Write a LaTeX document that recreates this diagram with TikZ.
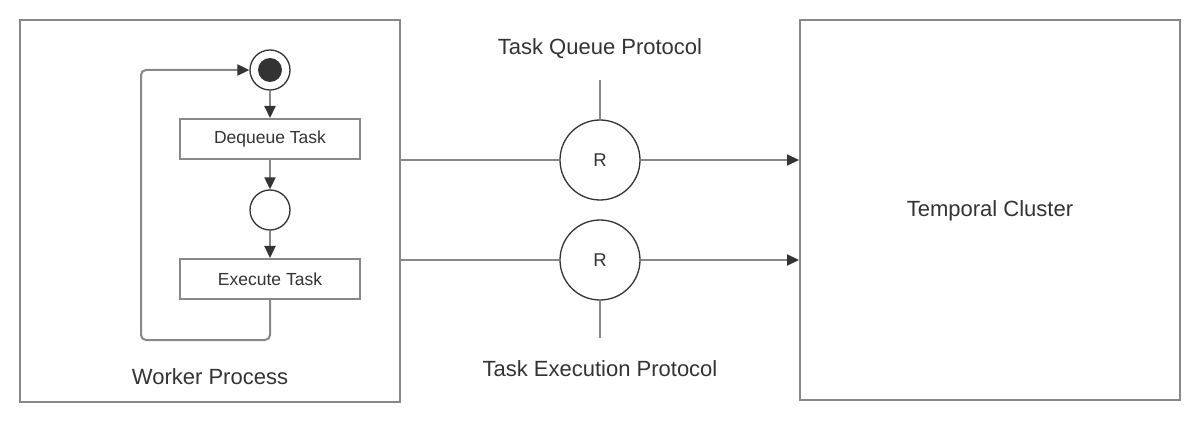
\documentclass[tikz,border=0pt]{standalone}
\usepackage{fontspec}
\setmainfont{Liberation Sans}
\usetikzlibrary{arrows.meta,positioning}

\definecolor{linegray}{HTML}{888888}
\definecolor{inkdark}{HTML}{333333}

\begin{document}
\begin{tikzpicture}[x=1pt, y=-1pt,
    frame/.style={draw=linegray, line width=2pt, minimum width=380pt, minimum height=380pt},
    taskbox/.style={draw=linegray, line width=2pt, minimum width=180pt, minimum height=40pt,
      text=inkdark, font=\fontsize{17.5}{20}\selectfont},
    state/.style={circle, draw=inkdark, line width=1.3pt, fill=white, minimum size=40pt, inner sep=0pt},
    router/.style={circle, draw=inkdark, line width=1.3pt, fill=white, minimum size=80pt, inner sep=0pt,
      text=inkdark, font=\fontsize{18.5}{20}\selectfont},
    caption/.style={text=inkdark, font=\fontsize{22}{26}\selectfont},
    wire/.style={draw=linegray, line width=2pt},
    flow/.style={wire, -{Triangle[length=12pt, width=11pt, color=inkdark]}}]
  \useasboundingbox (0,0) rectangle (1200,422);
  % the two big boxes
  \node [frame, minimum height=382pt] (worker) at (210,211) {};
  \node [frame] (cluster) at (990,210) {};
  \node [caption] (workerlbl) at (210,377) {Worker Process};
  \node [caption] (clusterlbl) at (990,211) {Temporal Cluster};
  % worker loop
  \node [state] (start) at (270,70) {};
  \node [circle, fill=inkdark, minimum size=24pt, inner sep=0pt] (startdot) at (start) {};
  \node [taskbox] (dequeue) at (270,139) {Dequeue Task};
  \node [state] (pick) at (270,210) {};
  \node [taskbox] (execute) at (270,279) {Execute Task};
  \draw [flow] (start) -- (dequeue);
  \draw [flow] (dequeue) -- (pick);
  \draw [flow] (pick) -- (execute);
  \coordinate (loopcorner) at (141,340);
  \draw [flow, rounded corners=5pt] (execute.south) |- (loopcorner) |- (start);
  % protocols
  \foreach \y/\name in {160/rq, 260/rx} {
    \node [router] (\name) at (600,\y) {R};
    \draw [wire] (worker.east |- \name) -- (\name);
    \draw [flow] (\name) -- (cluster.west |- \name);
  }
  \coordinate (rqtop) at (600,80);
  \coordinate (rxbot) at (600,338);
  \draw [wire] (rq) -- (rqtop);
  \draw [wire] (rx) -- (rxbot);
  \node [caption] (qlbl) at (600,49) {Task Queue Protocol};
  \node [caption] (xlbl) at (600,369) {Task Execution Protocol};
\end{tikzpicture}
\end{document}
